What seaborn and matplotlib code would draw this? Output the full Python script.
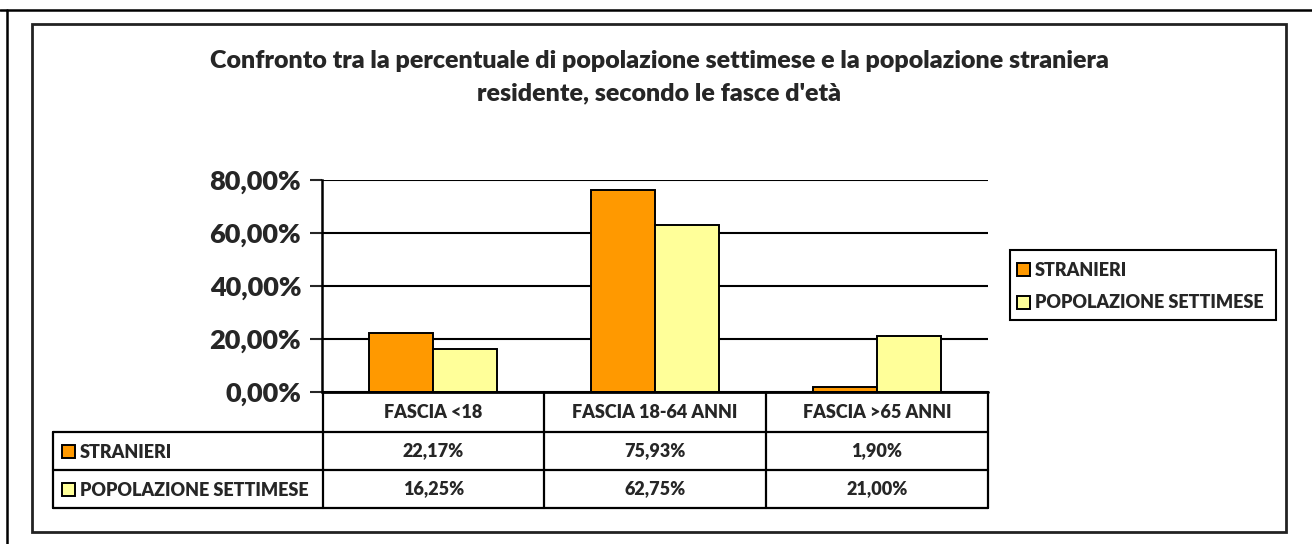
import matplotlib
matplotlib.use("Agg")
import matplotlib.pyplot as plt
import seaborn as sns
import pandas as pd
from matplotlib.lines import Line2D
from matplotlib.patches import Rectangle
from matplotlib.ticker import FuncFormatter

# dati
fasce = ["FASCIA <18", "FASCIA 18-64 ANNI", "FASCIA >65 ANNI"]
serie = ["STRANIERI", "POPOLAZIONE SETTIMESE"]
stranieri = [22.17, 75.93, 1.90]
settimese = [16.25, 62.75, 21.00]
colori = ["#FF9900", "#FFFF99"]
titolo = ("Confronto tra la percentuale di popolazione settimese e la popolazione straniera\n"
          "residente, secondo le fasce d'età")

df = pd.DataFrame({
    "fascia": fasce * 2,
    "serie": [serie[0]] * 3 + [serie[1]] * 3,
    "valore": stranieri + settimese,
})

sns.set_style("white")
plt.rcParams["font.family"] = ["Lato", "DejaVu Sans"]
PESO = "heavy"

W, H = 1312, 544
fig = plt.figure(figsize=(W / 100, H / 100), dpi=100)

def fx(x):
    return x / W

def fy(y):
    return (H - y) / H

# cornici
fig.add_artist(Line2D([0, 1], [fy(10), fy(10)], color="black", lw=1.8))
fig.add_artist(Line2D([fx(7), fx(7)], [fy(10), 0], color="black", lw=1.8))
fig.add_artist(Rectangle((fx(32), fy(532)), fx(1286) - fx(32), fy(24) - fy(532),
                         fill=False, edgecolor="#222222", lw=2))

fig.text(fx(659), fy(77), titolo, ha="center", va="center", fontsize=18,
         fontweight=PESO, linespacing=1.55)

ax = fig.add_axes([fx(322), fy(392), fx(988) - fx(322), fy(179.5) - fy(392)])
sns.barplot(data=df, x="fascia", y="valore", hue="serie", palette=colori,
            saturation=1, width=0.58, edgecolor="black", linewidth=1.4, ax=ax,
            legend=False)
ax.set_ylim(0, 80)
ax.set_xlim(-0.5, 2.5)
ax.set_yticks([0, 20, 40, 60, 80])
ax.yaxis.set_major_formatter(FuncFormatter(lambda v, p: f"{v:.2f}%".replace(".", ",")))
ax.tick_params(axis="y", left=True, length=9, width=1.5, labelsize=19.5, pad=6)
ax.tick_params(axis="x", bottom=False, labelbottom=False)
for lab in ax.get_yticklabels():
    lab.set_fontweight(PESO)
ax.grid(axis="y", color="black", lw=1.5)
ax.set_axisbelow(True)
for s in ["top", "right", "bottom"]:
    ax.spines[s].set_visible(False)
ax.spines["left"].set_color("black")
ax.spines["left"].set_linewidth(1.8)
ax.set_xlabel("")
ax.set_ylabel("")

# tabella dati
cols = [323, 544, 766, 988]
rows = [392, 432, 470, 508]
lw = 1.6
fs = 13
fig.add_artist(Line2D([fx(323), fx(988)], [fy(392), fy(392)], color="black", lw=2))
for r in rows[1:]:
    fig.add_artist(Line2D([fx(53), fx(988)], [fy(r), fy(r)], color="black", lw=lw))
for c in cols:
    fig.add_artist(Line2D([fx(c), fx(c)], [fy(392), fy(508)], color="black", lw=lw))
fig.add_artist(Line2D([fx(53), fx(53)], [fy(432), fy(508)], color="black", lw=lw))

for i, f in enumerate(fasce):
    xc = (cols[i] + cols[i + 1]) / 2
    fig.text(fx(xc), fy(412), f, ha="center", va="center", fontsize=fs, fontweight=PESO)
    for j, vals in enumerate([stranieri, settimese]):
        yc = (rows[j + 1] + rows[j + 2]) / 2
        fig.text(fx(xc), fy(yc), f"{vals[i]:.2f}%".replace(".", ","), ha="center",
                 va="center", fontsize=fs, fontweight=PESO)

for j, s in enumerate(serie):
    yc = (rows[j + 1] + rows[j + 2]) / 2
    fig.add_artist(Rectangle((fx(62), fy(yc + 7)), fx(13), fy(0) - fy(13),
                             facecolor=colori[j], edgecolor="black", lw=1.4))
    fig.text(fx(80), fy(yc + 1), s, ha="left", va="center", fontsize=fs, fontweight=PESO)

# legenda
fig.add_artist(Rectangle((fx(1010), fy(320)), fx(1276) - fx(1010), fy(250) - fy(320),
                         fill=False, edgecolor="black", lw=1.5))
for j, s in enumerate(serie):
    yc = 269 + j * 33
    fig.add_artist(Rectangle((fx(1017), fy(yc + 7)), fx(13), fy(0) - fy(13),
                             facecolor=colori[j], edgecolor="black", lw=1.4))
    fig.text(fx(1035), fy(yc + 1), s, ha="left", va="center", fontsize=fs, fontweight=PESO)

fig.savefig("out.png", dpi=100, facecolor="white")
